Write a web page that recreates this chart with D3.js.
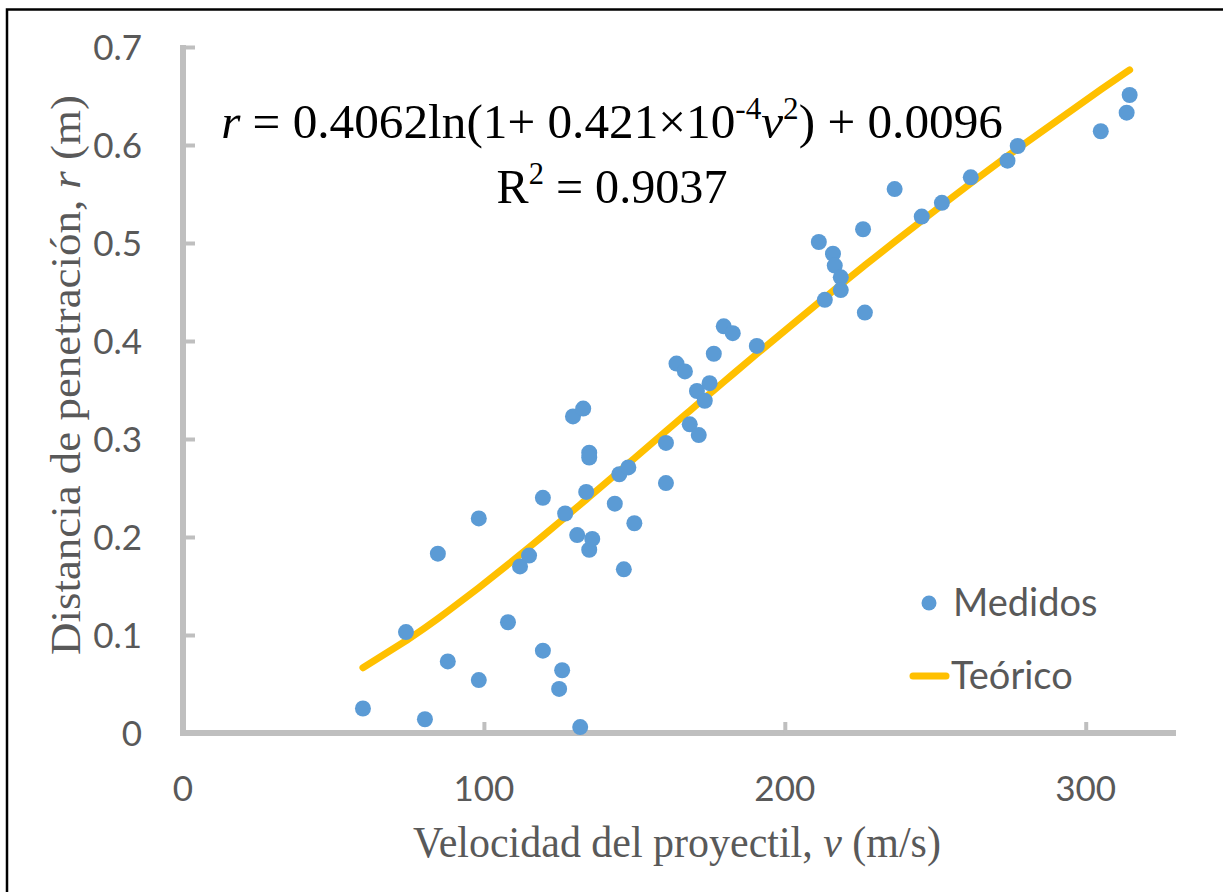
<!DOCTYPE html>
<html>
<head>
<meta charset="utf-8">
<script src="https://cdn.jsdelivr.net/npm/d3@7/dist/d3.min.js"></script>
<style>
  html, body { margin: 0; padding: 0; background: #fff; }
  svg { display: block; }
</style>
</head>
<body>
<script>
// Measured penetration depth vs. projectile velocity
const velocity = [59.8, 74.1, 80.4, 84.7, 88.0, 98.3, 98.3, 108.0, 112.0, 115.0,
  119.6, 119.6, 126.0, 125.0, 127.0, 129.6, 131.0, 132.0, 133.0, 134.0,
  135.0, 135.0, 135.0, 136.0, 143.5, 145.0, 146.5, 148.0, 150.0, 160.5,
  160.5, 164.0, 166.8, 168.4, 170.8, 171.4, 173.4, 175.0, 176.4, 179.7,
  182.7, 190.7, 211.3, 213.3, 216.0, 216.6, 218.6, 218.6, 226.0, 226.6,
  236.5, 245.5, 252.2, 261.8, 274.0, 277.4, 305.0, 313.6, 314.6];
const distance = [0.025, 0.103, 0.014, 0.183, 0.073, 0.219, 0.054, 0.113, 0.170, 0.181,
  0.240, 0.084, 0.064, 0.045, 0.224, 0.323, 0.202, 0.006, 0.331, 0.246,
  0.286, 0.281, 0.187, 0.198, 0.234, 0.264, 0.167, 0.271, 0.214, 0.296,
  0.255, 0.377, 0.369, 0.315, 0.349, 0.304, 0.339, 0.357, 0.387, 0.415,
  0.408, 0.395, 0.501, 0.442, 0.489, 0.477, 0.465, 0.452, 0.514, 0.429,
  0.555, 0.527, 0.541, 0.567, 0.584, 0.599, 0.614, 0.633, 0.651];

// Fitted model shown on the chart: r = a ln(1 + b v^2) + c
const fitA = 0.4062, fitB = 0.421e-4, fitC = 0.0096;
const rSquared = "0.9037";

const xTicks = [0, 100, 200, 300];
const yTicks = [0, 0.1, 0.2, 0.3, 0.4, 0.5, 0.6, 0.7];
const seriesNames = ["Medidos", "Teórico"];

const W = 1223, H = 892;
const blue = "#5B9BD5", gold = "#FFC000", axisGray = "#BFBFBF", textGray = "#595959";

const svg = d3.select("body").append("svg").attr("width", W).attr("height", H);

// outer frame (open on right and bottom)
svg.append("path").attr("d", `M7,${H} V9.5 H${W}`)
  .attr("fill", "none").attr("stroke", "#000").attr("stroke-width", 2.5);

const x = d3.scaleLinear().domain([0, 330]).range([183, 1176]);
const y = d3.scaleLinear().domain([0, 0.7]).range([733, 47]);

// axes
const xAxis = d3.axisBottom(x).tickValues(xTicks.filter(d => d > 0)).tickSizeInner(-11).tickSizeOuter(0).tickFormat("");
const gx = svg.append("g").attr("transform", `translate(0,${y(0)})`).call(xAxis);
gx.select(".domain").attr("stroke", axisGray).attr("stroke-width", 6)
  .attr("d", `M${x(0) - 3},0H${x(330)}`);
gx.selectAll(".tick line").attr("stroke", axisGray).attr("stroke-width", 4);

const yAxis = d3.axisLeft(y).tickValues(yTicks.filter(d => d > 0)).tickSizeInner(-12).tickSizeOuter(0).tickFormat("");
const gy = svg.append("g").attr("transform", `translate(${x(0)},0)`).call(yAxis);
gy.select(".domain").attr("stroke", axisGray).attr("stroke-width", 6)
  .attr("d", `M0,${y(0.7) - 2}V${y(0)}`);
gy.selectAll(".tick line").attr("stroke", axisGray).attr("stroke-width", 4);

// tick labels
const sans = "Lato, 'Open Sans', sans-serif";
svg.append("g").selectAll("text").data(xTicks).join("text")
  .attr("x", d => x(d)).attr("y", 801)
  .attr("text-anchor", "middle")
  .attr("font-family", sans).attr("font-size", 35).attr("fill", textGray)
  .text(d => d3.format("d")(d));
svg.append("g").selectAll("text").data(yTicks).join("text")
  .attr("x", 142).attr("y", d => y(d) + 12.5)
  .attr("text-anchor", "end")
  .attr("font-family", sans).attr("font-size", 35).attr("fill", textGray)
  .text(d => d === 0 ? "0" : d3.format(".1f")(d));

// squeeze a text horizontally (in its own frame) so it spans the given width
function fitWidth(sel, width, cx, cy, rot) {
  const natural = sel.node().getComputedTextLength();
  const s = width / natural;
  sel.attr("x", 0).attr("y", 0).attr("text-anchor", "middle")
    .attr("transform", `translate(${cx},${cy}) rotate(${rot || 0}) scale(${s},1)`);
}

// axis titles
const serif = "'Liberation Serif', 'Times New Roman', serif";
const xt = svg.append("text")
  .attr("font-family", serif).attr("font-size", 44).attr("fill", textGray);
xt.append("tspan").text("Velocidad del proyectil, ");
xt.append("tspan").attr("font-style", "italic").text("v");
xt.append("tspan").text(" (m/s)");
fitWidth(xt, 528, 677, 857);

const yt = svg.append("text")
  .attr("font-family", serif).attr("font-size", 42).attr("fill", textGray);
yt.append("tspan").text("Distancia de penetración, ");
yt.append("tspan").attr("font-style", "italic").text("r");
yt.append("tspan").text(" (m)");
fitWidth(yt, 560, 80, 375, -90);

// theoretical curve evaluated at the measured velocities
const model = v => fitA * Math.log(1 + fitB * v * v) + fitC;
const vSorted = Array.from(new Set(velocity)).sort((a, b) => a - b);
const line = d3.line().x(d => x(d)).y(d => y(model(d)));
svg.append("path").datum(vSorted).attr("d", line)
  .attr("fill", "none").attr("stroke", gold).attr("stroke-width", 7)
  .attr("stroke-linecap", "round").attr("stroke-linejoin", "round");

// measured points
svg.append("g").selectAll("circle").data(velocity.map((v, i) => [v, distance[i]])).join("circle")
  .attr("cx", d => x(d[0])).attr("cy", d => y(d[1])).attr("r", 8)
  .attr("fill", blue);

// equation
const eq = svg.append("text")
  .attr("font-family", serif).attr("font-size", 49).attr("fill", "#000");
eq.append("tspan").attr("font-style", "italic").text("r");
eq.append("tspan").text(` = ${fitA}ln(1+ 0.421×10`);
eq.append("tspan").attr("font-size", 31).attr("dy", -19).text("-4");
eq.append("tspan").attr("font-style", "italic").attr("dy", 19).text("v");
eq.append("tspan").attr("font-size", 31).attr("dy", -19).text("2");
eq.append("tspan").attr("dy", 19).text(`) + ${fitC}`);
fitWidth(eq, 782, 612, 138);

const r2 = svg.append("text")
  .attr("font-family", serif).attr("font-size", 49).attr("fill", "#000");
r2.append("tspan").text("R");
r2.append("tspan").attr("font-size", 31).attr("dy", -19).text("2");
r2.append("tspan").attr("dy", 19).text(` = ${rSquared}`);
fitWidth(r2, 231, 612, 203);

// legend
const lg = svg.append("g");
lg.append("circle").attr("cx", 929).attr("cy", 603).attr("r", 7.5).attr("fill", blue);
lg.append("line").attr("x1", 913).attr("x2", 946).attr("y1", 676).attr("y2", 676)
  .attr("stroke", gold).attr("stroke-width", 7).attr("stroke-linecap", "round");
lg.selectAll("text").data(seriesNames).join("text")
  .attr("x", (d, i) => i === 0 ? 953 : 951).attr("y", (d, i) => i === 0 ? 616 : 689)
  .attr("font-family", sans).attr("font-size", 38).attr("fill", textGray)
  .text(d => d);
</script>
</body>
</html>
